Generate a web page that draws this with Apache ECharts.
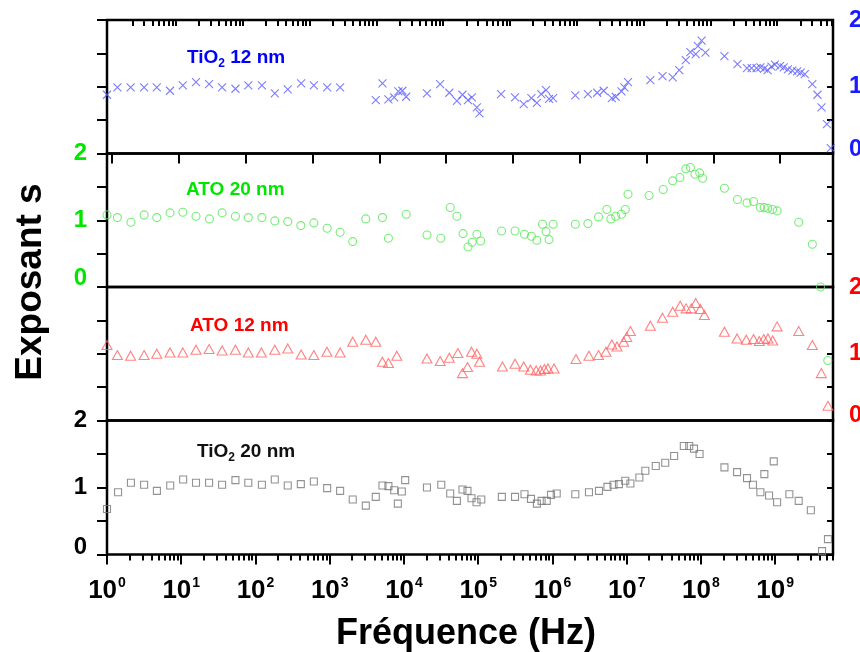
<!DOCTYPE html>
<html><head><meta charset="utf-8">
<script src="https://cdn.jsdelivr.net/npm/echarts@6/dist/echarts.min.js"></script>
<style>html,body{margin:0;padding:0;background:#fff}#c{width:860px;height:652px}</style>
</head><body><div id="c"></div>
<script>
// ---- data (frequency in Hz, exponent s) ----
const tio2_12_freq = [1,1.38,2.08,3.16,4.68,7.06,10.5,15.8,23.7,35.5,53.7,80,122,182,272,412,611,923,1380,
 4170,5130,6170,7380,8400,9500,10700,20400,
 30700,40800,51600,61300,72800,82000,95800,104000,
 203000,313000,410000,520000,617000,705000,818000,900000,1.02e6,
 2.03e6,3.0e6,4.0e6,4.9e6,6.3e6,7.1e6,8.5e6,9.3e6,1.04e7,
 2.08e7,3.03e7,4.16e7,5.1e7,6.25e7,7.2e7,8.5e7,9.1e7,1.02e8,1.15e8,
 2.07e8,3.1e8,4.17e8,4.8e8,5.6e8,6.31e8,7.1e8,7.9e8,8.9e8,9.9e8,
 1.16e9,1.3e9,1.48e9,1.7e9,1.97e9,2.2e9,2.5e9,
 3.16e9,3.7e9,4.2e9,4.97e9,5.6e9];
const tio2_12_s = [0.88,0.99,0.99,0.99,0.99,0.94,1.02,1.07,1.04,0.99,0.97,1.02,1.02,0.90,0.96,1.05,1.02,0.99,0.99,
 0.80,1.05,0.81,0.84,0.93,0.94,0.85,0.90,
 1.04,0.91,0.79,0.88,0.80,0.84,0.69,0.60,
 0.89,0.84,0.74,0.83,0.76,0.89,0.95,0.82,0.83,
 0.87,0.89,0.91,0.94,0.83,0.85,0.93,0.99,1.07,
 1.10,1.16,1.14,1.25,1.40,1.52,1.49,1.61,1.69,1.51,
 1.46,1.34,1.28,1.28,1.28,1.29,1.27,1.25,1.30,1.33,
 1.31,1.29,1.26,1.24,1.23,1.21,1.19,
 1.04,0.88,0.69,0.44,0.08];

const ato20_freq = [1,1.38,2.1,3.16,4.68,7.06,10.5,15.8,24,35.5,53.7,80,122,182,272,408,611,923,1380,
 2040,3060,5120,6170,10700,20400,
 31300,41900,51600,62500,72800,82800,95800,108000,
 206000,313000,420000,520000,617000,734000,818000,900000,1.02e6,
 2.03e6,3.0e6,4.17e6,5.4e6,6.1e6,7.1e6,8.5e6,9.55e6,1.04e7,
 2.0e7,3.1e7,4.16e7,5.2e7,6.25e7,7.2e7,8.3e7,9.6e7,1.05e8,
 2.07e8,3.1e8,4.17e8,5.1e8,6.31e8,7.1e8,7.9e8,9.2e8,1.06e9,
 2.07e9,3.16e9,4.07e9,5.1e9];
const ato20_s = [1.08,1.04,0.97,1.08,1.04,1.11,1.12,1.06,1.02,1.11,1.06,1.04,1.04,0.99,0.98,0.92,0.96,0.88,0.82,
 0.68,1.02,1.04,0.73,1.09,0.78,
 0.73,1.19,1.06,0.80,0.60,0.67,0.79,0.69,
 0.84,0.84,0.79,0.76,0.70,0.94,0.83,0.71,0.94,
 0.94,0.95,1.05,1.16,1.02,1.06,1.09,1.16,1.39,
 1.37,1.46,1.59,1.64,1.77,1.79,1.69,1.71,1.63,
 1.48,1.31,1.26,1.28,1.19,1.19,1.18,1.16,1.14,
 0.97,0.64,0.0,-1.1];

const ato12_freq = [1,1.38,2.08,3.16,4.68,7.06,10.5,15.8,23.7,35.5,53.7,80,120,182,272,412,611,917,1380,
 2040,3060,4170,5120,6170,8000,20400,
 30700,40800,53100,61300,71700,81200,95800,104000,
 212000,313000,410000,505000,603000,690000,777000,868000,1.05e6,
 2.07e6,3.1e6,4.17e6,5.25e6,6.3e6,7.4e6,9.1e6,1.0e7,1.12e7,
 2.08e7,3.03e7,4.16e7,5.25e7,6.3e7,7.4e7,8.5e7,9.8e7,1.11e8,
 2.07e8,3.06e8,4.07e8,5.1e8,6.1e8,7.0e8,7.97e8,9.25e8,1.06e9,
 2.07e9,3.16e9,4.17e9,5.13e9];
const ato12_s = [1.13,0.98,0.97,0.98,1.0,1.02,1.02,1.06,1.07,1.05,1.06,1.02,1.02,1.06,1.08,0.99,0.98,1.03,1.02,
 1.18,1.21,1.18,0.88,0.86,0.97,0.93,
 0.89,0.94,1.01,0.71,0.80,1.03,1.0,0.88,
 0.81,0.85,0.81,0.76,0.75,0.75,0.77,0.78,0.78,
 0.92,0.97,0.98,1.03,1.14,1.11,1.18,1.25,1.34,
 1.42,1.54,1.63,1.72,1.68,1.68,1.76,1.67,1.58,
 1.33,1.23,1.21,1.22,1.19,1.22,1.23,1.20,1.41,
 1.34,1.13,0.71,0.22];

const tio2_20_freq = [1,1.41,2.1,3.16,4.7,7.1,10.6,15.8,23.7,35.5,53.7,80,122,182,272,408,611,923,1380,
 2040,3060,4170,5130,6170,7380,8270,9340,10380,20400,
 31800,41900,51600,61300,71700,81200,94900,110000,
 208000,313000,420000,513000,617000,713000,837000,955000,1.14e6,
 2.03e6,3.1e6,4.23e6,5.5e6,6.64e6,7.85e6,9.55e6,1.12e7,
 1.48e7,1.78e7,2.46e7,3.3e7,4.35e7,5.87e7,6.95e7,8.05e7,9.57e7,
 2.07e8,3.06e8,4.17e8,5.01e8,6.31e8,7.14e8,8.26e8,9.55e8,1.06e9,
 1.55e9,2.07e9,3.02e9,4.27e9,5.13e9];
const tio2_20_s = [0.68,0.93,1.07,1.04,0.95,1.03,1.12,1.07,1.07,1.04,1.11,1.07,1.04,1.12,1.03,1.05,1.09,0.99,0.95,
 0.82,0.73,0.86,1.03,1.02,0.96,0.76,0.94,1.11,1.0,
 1.04,0.91,0.80,0.97,0.95,0.84,0.78,0.82,
 0.86,0.86,0.90,0.83,0.76,0.80,0.80,0.89,0.91,
 0.90,0.93,0.95,1.01,1.04,1.05,1.10,1.06,
 1.15,1.25,1.32,1.37,1.47,1.62,1.62,1.58,1.50,
 1.30,1.23,1.14,1.04,0.93,1.20,0.88,1.39,0.78,
 0.90,0.80,0.66,0.05,0.23];

// tick values (axis structure)
const decadeExponents = [0,1,2,3,4,5,6,7,8,9];
const topDecadeExponents = [-1,0,1,2,3,4,5,6,7,8,9];
const panelNames = ['TiO{sub|2} 12 nm','ATO 20 nm','ATO 12 nm','TiO{sub|2} 20 nm'];

// ---- layout / styles ----
const FONT = 'Liberation Sans';
const X_MIN = 1, X_MAX = 6e9;
const TOP_MIN = Math.pow(10,-1.078), TOP_MAX = Math.pow(10,9.79);
const grids = [{top:20,height:133.5},{top:153.5,height:133.5},{top:287,height:133.5},{top:420.5,height:134}];

function majors(exps){ return exps.map(e => Math.pow(10,e)); }
function minors(exps){ const r=[]; exps.forEach(e => { for(let k=2;k<10;k++) r.push(k*Math.pow(10,e)); }); return r; }

const chart = echarts.init(document.getElementById('c'), null, {renderer:'canvas'});

const xAxes = [];
grids.forEach((g,i) => {
  xAxes.push({type:'log', gridIndex:i, min:X_MIN, max:X_MAX, logBase:10,
    axisLine:{show:false}, splitLine:{show:false},
    axisTick: i===3 ? {show:true, inside:false, length:10, customValues: majors(decadeExponents), lineStyle:{color:'#000',width:2}} : {show:false},
    axisLabel: i===3 ? {show:true, margin:22, customValues: majors(decadeExponents),
      formatter: v => '{b|10}{s|' + Math.round(Math.log10(v)) + '}',
      rich:{ b:{fontFamily:FONT,fontWeight:'bold',fontSize:26,color:'#000'},
             s:{fontFamily:FONT,fontWeight:'bold',fontSize:14,color:'#000',padding:[0,0,14,1]} } } : {show:false}
  });
});
// bottom minor ticks
xAxes.push({type:'log', gridIndex:3, min:X_MIN, max:X_MAX, position:'bottom',
  axisLine:{show:false}, splitLine:{show:false}, axisLabel:{show:false},
  axisTick:{show:true, inside:false, length:6, customValues: minors([0,1,2,3,4,5,6,7,8,9]), lineStyle:{color:'#000',width:2}}});
// top major / minor ticks (top panel frame)
xAxes.push({type:'log', gridIndex:0, min:TOP_MIN, max:TOP_MAX, position:'top',
  axisLine:{show:false}, splitLine:{show:false}, axisLabel:{show:false},
  axisTick:{show:true, inside:true, length:10, customValues: majors(topDecadeExponents).filter(v=>v>=TOP_MIN), lineStyle:{color:'#000',width:2}}});
xAxes.push({type:'log', gridIndex:0, min:TOP_MIN, max:TOP_MAX, position:'top',
  axisLine:{show:false}, splitLine:{show:false}, axisLabel:{show:false},
  axisTick:{show:true, inside:true, length:6, customValues: minors(topDecadeExponents).filter(v=>v>=TOP_MIN && v<=TOP_MAX), lineStyle:{color:'#000',width:2}}});

const labelCfg = [
  {left:false, right:true,  color:'#1a1aff', shift:4},
  {left:true,  right:false, color:'#00e600', shift:9},
  {left:false, right:true,  color:'#ff0000', shift:5},
  {left:true,  right:false, color:'#000000', shift:7}
];
function yLabel(show, cfg, side){
  if(!show) return {show:false};
  const base = {fontFamily:FONT, fontWeight:'bold', fontSize:24, color:cfg.color};
  return {show:true, margin: side==='left'?20:16, align: side==='left'?'right':'left',
    formatter: v => { if (Math.abs(v-Math.round(v))>1e-6) return ''; return v===0 ? '{lo|0}' : '{n|'+v+'}'; },
    rich:{ n: base, lo: Object.assign({}, base, {padding:[0,0,cfg.shift*2,0]}) } };
}
const yAxes = [];
grids.forEach((g,i) => {
  const cfg = labelCfg[i];
  yAxes.push({type:'value', gridIndex:i, position:'left', min:0, max:2, interval:0.5,
    axisLine:{show:false}, splitLine:{show:false},
    axisTick:{show:true, inside:false, length:10, lineStyle:{color:'#000',width:2}},
    axisLabel: yLabel(cfg.left, cfg, 'left')});
  yAxes.push({type:'value', gridIndex:i, position:'right', min:0, max:2, interval:0.5,
    axisLine:{show:false}, splitLine:{show:false},
    axisTick:{show:true, inside:true, length:6, lineStyle:{color:'#000',width:2}},
    axisLabel: yLabel(cfg.right, cfg, 'right')});
});

function pairs(f, s){ return f.map((x,k) => [x, s[k]]); }
const seriesDefs = [
  {name:'TiO2 12 nm', f:tio2_12_freq, s:tio2_12_s, symbol:'path://M0,0L10,10M10,0L0,10', size:8, color:'#5c5cff'},
  {name:'ATO 20 nm',  f:ato20_freq,  s:ato20_s,  symbol:'circle', size:8, color:'#55e855'},
  {name:'ATO 12 nm',  f:ato12_freq,  s:ato12_s,  symbol:'triangle', size:[10,9], color:'#ff6464'},
  {name:'TiO2 20 nm', f:tio2_20_freq, s:tio2_20_s, symbol:'rect', size:7, color:'#777777'}
];
const series = seriesDefs.map((d,i) => ({
  type:'scatter', name:d.name, xAxisIndex:i, yAxisIndex:2*i, data:pairs(d.f,d.s),
  symbol:d.symbol, symbolSize:d.size, clip:false,
  itemStyle:{color:'none', borderColor:d.color, borderWidth:1.1},
  emphasis:{disabled:true}, z:3
}));

const panelColors = ['#0000ff','#00e600','#ff0000','#111111'];
const panelPos = [[187,58],[186,190],[190,326],[197,452]];
const graphics = panelNames.map((t,i) => ({
  type:'text', x:panelPos[i][0], y:panelPos[i][1], z:10,
  style:{ text:'{a|'+t.replace('{sub|2}','}{sub|2}{a|')+'}', verticalAlign:'middle', align:'left',
    rich:{ a:{fontFamily:FONT,fontWeight:'bold',fontSize:19,fill:panelColors[i]},
           sub:{fontFamily:FONT,fontWeight:'bold',fontSize:12,fill:panelColors[i],padding:[12,0,0,0]} } }
}));
graphics.push({type:'text', x:31, y:282, rotation:Math.PI/2, z:10,
  style:{text:'Exposant s', fontFamily:FONT, fontWeight:'bold', fontSize:37, fill:'#000', align:'center', verticalAlign:'middle'}});
graphics.push({type:'text', x:466, y:634, z:10,
  style:{text:'Fréquence (Hz)', fontFamily:FONT, fontWeight:'bold', fontSize:36, fill:'#000', align:'center', verticalAlign:'middle'}});

chart.setOption({
  animation:false,
  backgroundColor:'#ffffff',
  grid: grids.map(g => ({left:107, width:726, top:g.top, height:g.height, show:true, borderColor:'#000', borderWidth:2.5, backgroundColor:'transparent', outerBoundsMode:'none', containLabel:false})),
  xAxis: xAxes,
  yAxis: yAxes,
  series: series,
  graphic: graphics
});
</script></body></html>
